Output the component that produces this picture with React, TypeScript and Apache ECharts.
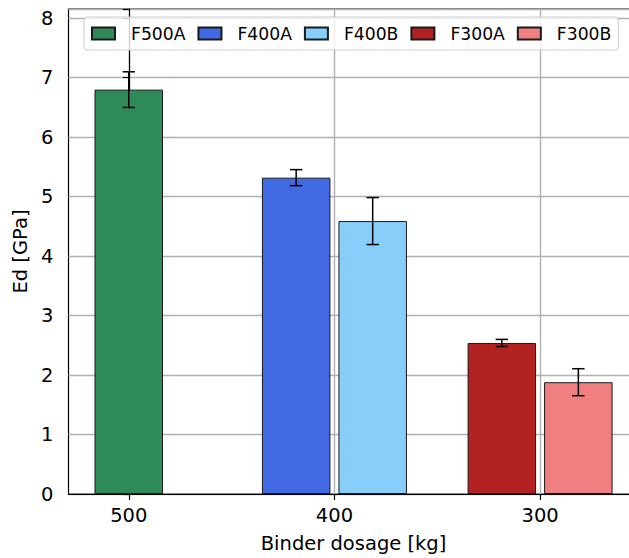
import React, { useEffect, useRef } from "react";
import * as echarts from "echarts";

const categories = ["500", "400", "300"];
const seriesNames = ["F500A", "F400A", "F400B", "F300A", "F300B"];
const seriesGroup = [0, 1, 1, 2, 2];
const seriesSide = [0, -1, 1, -1, 1];
const seriesValues = [6.8, 5.32, 4.59, 2.54, 1.88];
const seriesErrors = [0.3, 0.135, 0.395, 0.06, 0.227];
const seriesColors = ["#2E8B57", "#4169E1", "#87CEFA", "#B22222", "#F08080"];

const SIDE_OFFSET = 0.186;
const BAR_WIDTH = 68.5;
const FONT = "DejaVu Sans";
const CHART_W = 650;

export default function App() {
  const ref = useRef<HTMLDivElement>(null);
  useEffect(() => {
    if (!ref.current) return;
    const chart = echarts.init(ref.current, null, { renderer: "svg" });
    const xs = seriesNames.map((_, i) => seriesGroup[i] + seriesSide[i] * SIDE_OFFSET);
    const tickVals = categories.map((_, i) => i);

    const barSeries = seriesNames.map((name, i) => ({
      name,
      type: "bar",
      data: [[xs[i], seriesValues[i]]],
      barWidth: BAR_WIDTH,
      barGap: "-100%",
      itemStyle: { color: seriesColors[i], borderColor: "#1a1a1a", borderWidth: 1 },
      z: 2,
    }));

    const errData = seriesNames.map((_, i) => [xs[i], seriesValues[i], seriesErrors[i]]);

    chart.setOption({
      animation: false,
      textStyle: { fontFamily: FONT },
      grid: {
        left: 68.5,
        top: 9,
        right: CHART_W - 638.6,
        bottom: 63.5,
        show: true,
        borderColor: "#000",
        borderWidth: 1.2,
        backgroundColor: "transparent",
      },
      legend: {
        data: seriesNames,
        left: 84,
        top: 17,
        padding: [7, 7, 7, 7],
        itemWidth: 23,
        itemHeight: 12,
        itemGap: 12,
        icon: "rect",
        backgroundColor: "rgba(255,255,255,0.8)",
        borderColor: "#cccccc",
        borderWidth: 1,
        borderRadius: 3,
        textStyle: {
          fontFamily: FONT,
          fontSize: 17.2,
          color: "#000",
          padding: [0, 0, 0, 11],
          lineHeight: 19,
        },
      },
      xAxis: {
        type: "value",
        min: -0.293,
        max: 2.479,
        name: "Binder dosage [kg]",
        nameLocation: "middle",
        nameGap: 39,
        nameTextStyle: { fontFamily: FONT, fontSize: 19.5, color: "#000" },
        axisLine: { show: true, lineStyle: { color: "#000", width: 1.2 } },
        axisTick: { show: true, length: 6, customValues: tickVals, lineStyle: { color: "#000", width: 1.2 } },
        axisLabel: {
          customValues: tickVals,
          formatter: (v: number) => categories[Math.round(v)] ?? "",
          fontFamily: FONT,
          fontSize: 19.5,
          color: "#000",
          margin: 11,
        },
        splitLine: { show: true, lineStyle: { color: "#b0b0b0", width: 1.4 } },
      },
      yAxis: {
        type: "value",
        min: 0,
        max: 8.156,
        interval: 1,
        name: "Ed [GPa]",
        nameLocation: "middle",
        nameGap: 30,
        nameTextStyle: { fontFamily: FONT, fontSize: 19.5, color: "#000" },
        axisLine: { show: true, lineStyle: { color: "#000", width: 1.2 } },
        axisTick: { show: true, length: 6, lineStyle: { color: "#000", width: 1.2 } },
        axisLabel: {
          fontFamily: FONT,
          fontSize: 19.5,
          color: "#000",
          margin: 15,
          formatter: (v: number) => (Math.abs(v - Math.round(v)) < 1e-6 ? String(Math.round(v)) : ""),
        },
        splitLine: { show: true, lineStyle: { color: "#b0b0b0", width: 1.4 } },
      },
      series: [
        ...barSeries,
        {
          type: "custom",
          name: "errors",
          data: errData,
          z: 5,
          renderItem: (params: any, api: any) => {
            const x = api.value(0);
            const y = api.value(1);
            const e = api.value(2);
            const top = api.coord([x, y + e]);
            const bot = api.coord([x, y - e]);
            const cap = 6.2;
            const style = { stroke: "#000", lineWidth: 1.5 };
            return {
              type: "group",
              children: [
                { type: "line", shape: { x1: top[0], y1: top[1], x2: bot[0], y2: bot[1] }, style },
                { type: "line", shape: { x1: top[0] - cap, y1: top[1], x2: top[0] + cap, y2: top[1] }, style },
                { type: "line", shape: { x1: bot[0] - cap, y1: bot[1], x2: bot[0] + cap, y2: bot[1] }, style },
              ],
            };
          },
        },
      ],
    });
    return () => chart.dispose();
  }, []);
  return (
    <div
      style={{ position: "absolute", left: 0, top: 0, width: 629, height: 558, overflow: "hidden", background: "#fff" }}
    >
      <div ref={ref} style={{ width: CHART_W, height: 558 }} />
    </div>
  );
}
